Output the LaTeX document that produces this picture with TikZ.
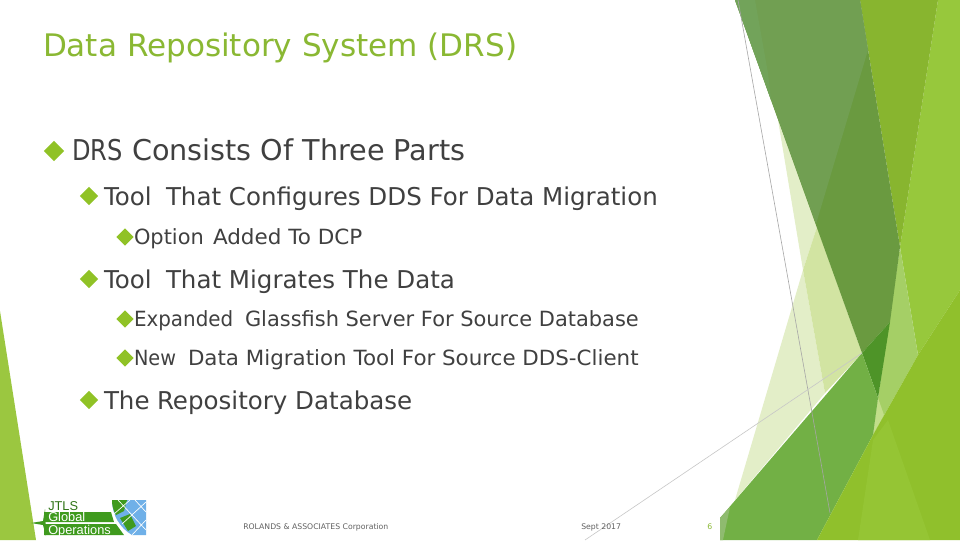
\documentclass[tikz,border=0pt]{standalone}
\usepackage{fontspec}
\setmainfont{DejaVu Sans}
\newfontfamily\logofont{Liberation Sans}
\definecolor{titlegreen}{HTML}{8AB833}
\definecolor{bodytext}{HTML}{404040}
\definecolor{bullet}{HTML}{90C226}
\definecolor{leftfacet}{HTML}{9BC740}
\definecolor{fB}{HTML}{97C83C}
\definecolor{fC}{HTML}{88B52F}
\definecolor{fD}{HTML}{E3EEC8}
\definecolor{fE}{HTML}{D2E4A2}
\definecolor{fF}{HTML}{A5CF66}
\definecolor{fG}{HTML}{C2DE8A}
\definecolor{fH}{HTML}{6A9A40}
\definecolor{fI}{HTML}{719F52}
\definecolor{fJ}{HTML}{72A35A}
\definecolor{fK}{HTML}{4E9428}
\definecolor{fL}{HTML}{72B045}
\definecolor{fM}{HTML}{90C02C}
\definecolor{fN}{HTML}{95C534}
\definecolor{fO}{HTML}{8FBB6F}
\definecolor{logoA}{HTML}{3F9A1E}
\definecolor{logoB}{HTML}{6FB0E8}
\tikzset{
  x=0.75pt,y=-0.75pt,
  txt/.style={anchor=base west,inner sep=0pt,outer sep=0pt,text=bodytext},
  titletxt/.style={txt,text=titlegreen,font=\fontsize{23.3}{28}\selectfont},
  lone/.style={txt,font=\fontsize{21.5}{25}\selectfont},
  ltwo/.style={txt,font=\fontsize{18.4}{22}\selectfont},
  lthree/.style={txt,font=\fontsize{15.7}{20}\selectfont},
  foot/.style={anchor=base west,inner sep=0pt,text=black!62,font=\fontsize{5.8}{7}\selectfont},
  facet/.style={draw=none},
  hair/.style={draw=black!35,line width=0.45pt},
  dia/.style={diamond,aspect=1,fill=bullet,draw=none,inner sep=0pt},
  logotxt/.style={anchor=base west,inner sep=0pt,font=\logofont\fontsize{9.6}{9.6}\selectfont}
}
\usetikzlibrary{shapes.geometric}
\begin{document}
\begin{tikzpicture}
\useasboundingbox (0,0) rectangle (960,540);
\fill[white] (0,0) rectangle (960,540);
% left facet
\fill[facet,fill=leftfacet] (0,311) -- (36,540) -- (0,540) -- cycle;
% right facets
\fill[facet,fill=fB] (938,0) -- (960,0) -- (960,290) -- (918,355) -- (900,247) -- cycle;
\fill[facet,fill=fC] (860,0) -- (938,0) -- (900,247) -- cycle;
\fill[facet,fill=fD] (778,120) -- (817,227) -- (803,270) -- cycle;
\fill[facet,fill=fD] (803,270) -- (825,393) -- (735,500) -- cycle;
\fill[facet,fill=fE] (817,227) -- (862,353) -- (825,393) -- (803,270) -- cycle;
\fill[facet,fill=fF] (900,247) -- (918,355) -- (873,435) -- (878,398) -- cycle;
\fill[facet,fill=fG] (878,398) -- (884,415) -- (873,435) -- cycle;
\fill[facet,fill=fH] (735,0) -- (860,0) -- (900,247) -- (890,322) -- (862,353) -- cycle;
\fill[facet,fill=fI] (735,0) -- (860,0) -- (868,50) -- (816,224) -- cycle;
\fill[facet,fill=fJ] (735,0) -- (755,0) -- (768,73) -- (771,100) -- cycle;
\fill[facet,fill=fK] (862,353) -- (890,322) -- (878,398) -- cycle;
\fill[facet,fill=fL] (720,518) -- (862,353) -- (878,398) -- (873,435) -- (817,540) -- (720,540) -- cycle;
\fill[facet,fill=fO] (720,518) -- (730,507) -- (723,540) -- (720,540) -- cycle;
\fill[facet,fill=fM] (960,290) -- (918,355) -- (873,435) -- (817,540) -- (960,540) -- cycle;
\fill[facet,fill=fN] (873,440) -- (858,540) -- (930,540) -- (888,420) -- cycle;
% hairlines
\coordinate (hairA) at (738,0);
\coordinate (hairB) at (830,513);
\coordinate (hairC) at (585,540);
\coordinate (hairD) at (862,353);
\draw[hair] (hairA) -- (hairB);
\draw[hair,draw=black!22] (hairC) -- (hairD);
% text
\node[titletxt] (title) at (43,56) {Data Repository System (DRS)};
\node[dia,minimum size=15.5pt] (b1) at (54,151) {};
\node[lone] (l1a) at (72,160) {\scalebox{.84}[1]{DRS}};
\node[lone] (l1b) at (132,160) {Consists Of Three Parts};
\node[dia,minimum size=14pt] (b2) at (89,196) {};
\node[ltwo] (l2a) at (104,205) {Tool};
\node[ltwo] (l2b) at (166,205) {That Configures DDS For Data Migration};
\node[dia,minimum size=13pt] (b3) at (125,237) {};
\node[lthree] (l3a) at (134,244) {Option};
\node[lthree] (l3b) at (213,244) {\scalebox{1.027}[1]{Added To DCP}};
\node[dia,minimum size=14pt] (b4) at (89,279) {};
\node[ltwo] (l4a) at (104,288) {Tool};
\node[ltwo] (l4b) at (166,288) {That Migrates The Data};
\node[dia,minimum size=13pt] (b5) at (125,319) {};
\node[lthree] (l5a) at (134,326) {\scalebox{.95}[1]{Expanded}};
\node[lthree] (l5b) at (245,326) {Glassfish Server For Source Database};
\node[dia,minimum size=13pt] (b6) at (125,358) {};
\node[lthree] (l6a) at (134,365) {\scalebox{.92}[1]{New}};
\node[lthree] (l6b) at (188,365) {\scalebox{1.022}[1]{Data Migration Tool For Source DDS-Client}};
\node[dia,minimum size=14pt] (b7) at (89,400) {};
\node[ltwo] (l7a) at (104,409) {The};
\node[ltwo] (l7b) at (157,409) {Repository Database};
% footer
\node[foot] (f1) at (243,529) {ROLANDS \& ASSOCIATES Corporation};
\node[foot] (f2) at (581,529) {Sept 2017};
\node[foot,text=titlegreen] (f3) at (707,529) {6};
% logo
\fill[fill=logoA] (44,512) -- (111,512) -- (114,522) -- (44,522) -- cycle;
\fill[fill=logoA] (44,524) -- (116,524) -- (124,535) -- (44,535) -- cycle;
\fill[fill=logoA] (31,523) -- (43,521) -- (45,509) -- (46,536) -- (43,525) -- cycle;
\fill[fill=logoB] (112,500) -- (146,500) -- (146,535) -- (132,535) .. controls (120,528) and (112,515) .. (112,500) -- cycle;
\fill[fill=logoA] (112,500) -- (127,500) -- (124,511) -- (116,515) .. controls (113,510) and (112,505) .. (112,500) -- cycle;
\fill[fill=logoA] (120,518) -- (130,514) -- (136,526) -- (128,531) -- cycle;
\draw[white,line width=0.5pt] (118,500) -- (146,530) (135,500) -- (146,512) (146,502) -- (122,524) (130,500) -- (114,514) (146,520) -- (132,535);
\node[logotxt,text=logoA!75!black] (lg1) at (48,510.5) {JTLS};
\node[logotxt,text=white] (lg2) at (48,521.5) {Global};
\node[logotxt,text=white] (lg3) at (48,534) {Operations};
\end{tikzpicture}
\end{document}
